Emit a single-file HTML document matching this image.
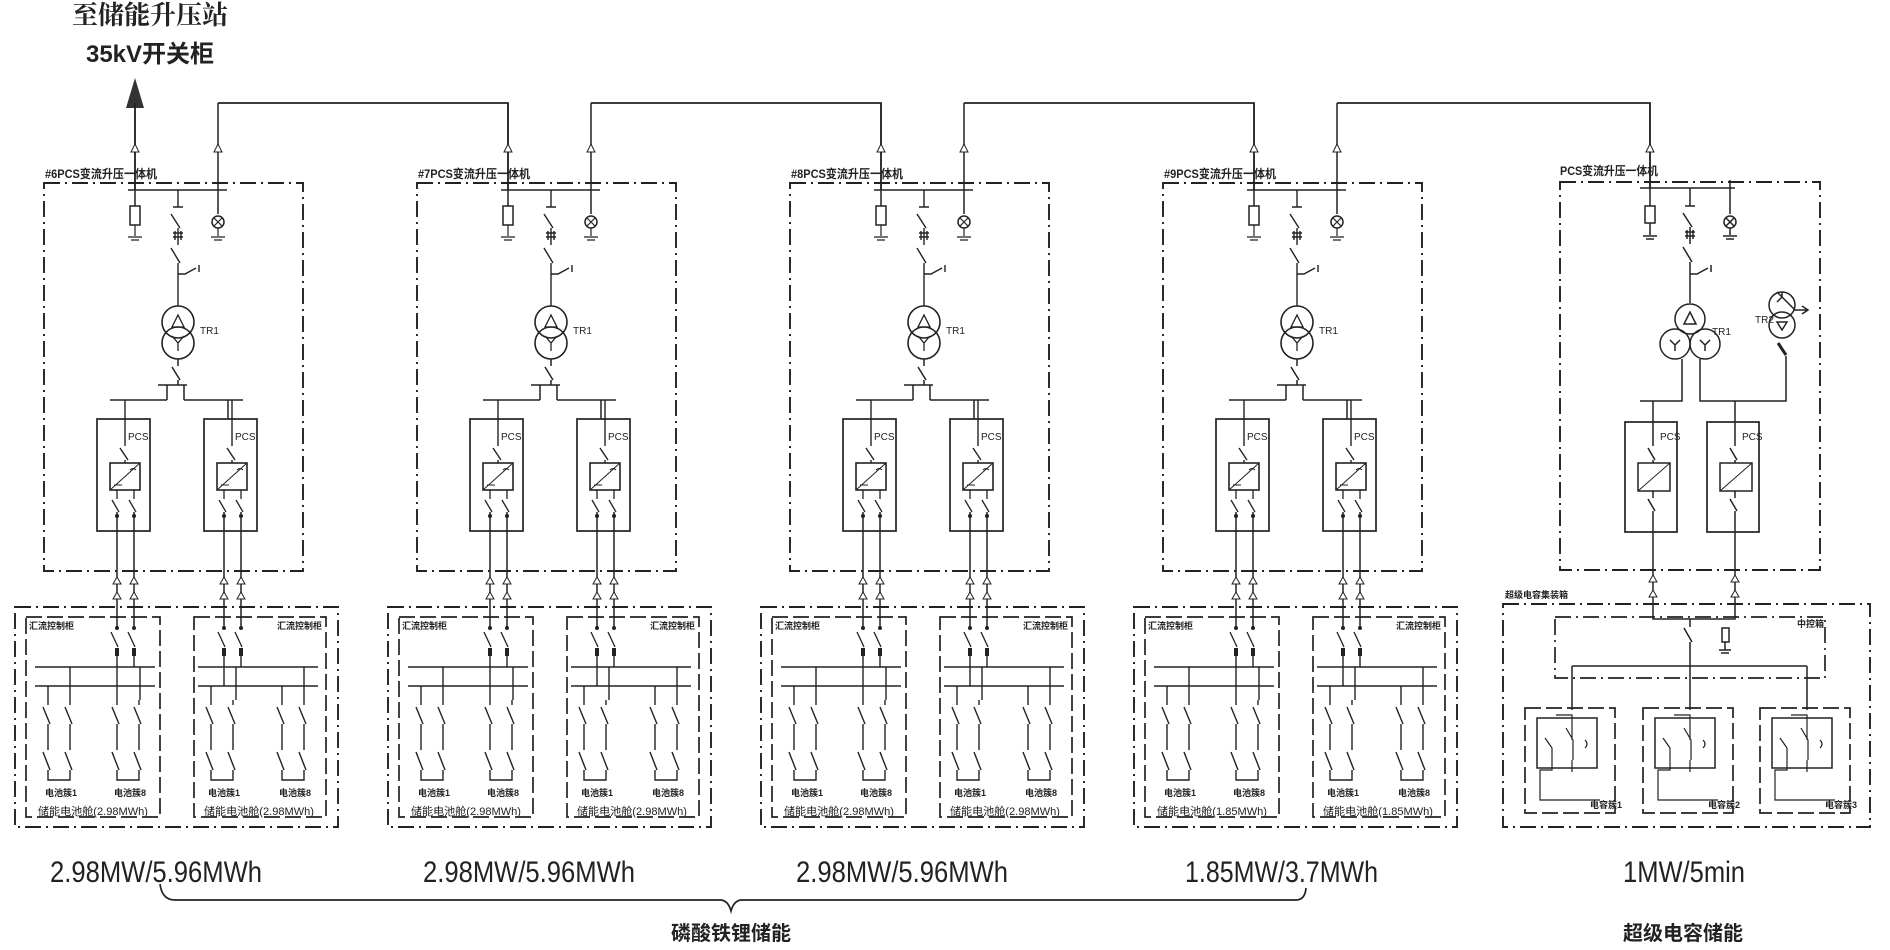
<!DOCTYPE html>
<html><head><meta charset="utf-8"><style>
html,body{margin:0;padding:0;background:#fff;}
svg{display:block;}
text{font-family:"Liberation Sans","Noto Sans CJK SC",sans-serif;fill:#222;}
</style></head><body>
<svg width="1890" height="950" viewBox="0 0 1890 950" xmlns="http://www.w3.org/2000/svg">
<defs>
<g id="pcs">
  <rect x="97" y="419" width="53" height="112" fill="none" stroke="#222" stroke-width="1.7"/>
  <path d="M125,400 V446 M120,448 L128,460 M125,460 V463" stroke="#222" stroke-width="1.4" fill="none"/>
  <rect x="110" y="463" width="30" height="27" fill="none" stroke="#222" stroke-width="1.6"/>
  <path d="M110,490 L140,463 M130,470 q3,-3 6,0 M114,485 h8" stroke="#222" stroke-width="1" fill="none"/>
  <path d="M117,490 V499 M134,490 V499 M112,500 L119,512 M129,500 L136,512" stroke="#222" stroke-width="1.3" fill="none"/>
  <circle cx="117" cy="516" r="2" fill="#222"/><circle cx="134" cy="516" r="2" fill="#222"/>
  <path d="M117,512 V628 M134,512 V628" stroke="#222" stroke-width="1.5" fill="none"/>
  <path d="M113,584 L117,577 L121,584 Z M113,599 L117,592 L121,599 Z M130,584 L134,577 L138,584 Z M130,599 L134,592 L138,599 Z" fill="#fff" stroke="#222" stroke-width="1"/>
  <circle cx="117" cy="628" r="2" fill="#222"/><circle cx="134" cy="628" r="2" fill="#222"/>
  <path d="M111,632 L118,647 M128,632 L135,647" stroke="#222" stroke-width="1.3"/>
  <rect x="115" y="648" width="4" height="8" fill="#222"/><rect x="132" y="648" width="4" height="8" fill="#222"/>
</g>
<g id="branch">
  <path d="M48,700 V705 M43,707 L50,724 M48,724 V750 M43,752 L50,770 M48,770 V780 H70 V770 M65,752 L72,770 M70,750 V724 M65,707 L72,724 M70,705 V700" stroke="#222" stroke-width="1.4" fill="none"/>
</g>
<g id="u">
  <rect x="44" y="183" width="259" height="388" fill="none" stroke="#222" stroke-width="1.9" stroke-dasharray="16 5 2 5"/>
  <path d="M135,103 V206 M218,103 V214" stroke="#222" stroke-width="1.5" fill="none"/>
  <path d="M131,152 L135,144 L139,152 Z M214,152 L218,144 L222,152 Z" fill="#fff" stroke="#222" stroke-width="1"/>
  <path d="M128,190 H227" stroke="#222" stroke-width="1.4"/>
  <rect x="130" y="206" width="10" height="19" fill="none" stroke="#222" stroke-width="1.5"/>
  <path d="M135,225 V236 M128,237 H142 M131,240 H139" stroke="#222" stroke-width="1.2"/>
  <circle cx="218" cy="222" r="6" fill="none" stroke="#222" stroke-width="1.5"/>
  <path d="M214,218 L222,226 M222,218 L214,226 M218,228 V236 M211,237 H225 M214,240 H222" stroke="#222" stroke-width="1.2"/>
  <path d="M178,190 V207 M173,207 H183 M171,214 L180,228 M178,228 V245 M173,233 h10 M173,237 h10 M175,231 v9 M181,231 v9 M171,248 L180,263 M178,263 V306 M178,274 H185 L196,268 M199,265 V272" stroke="#222" stroke-width="1.4" fill="none"/>
  <circle cx="178" cy="322" r="16" fill="none" stroke="#222" stroke-width="1.6"/>
  <circle cx="178" cy="343" r="16" fill="none" stroke="#222" stroke-width="1.6"/>
  <path d="M172,327 L178,315 L184,327 Z M172,336 L178,343 L184,336 M178,343 V351" fill="none" stroke="#222" stroke-width="1.3"/>
  <path d="M178,359 V366 M172,367 L180,380 M178,380 V385 M158,385 H187 M167,385 V400 M184,385 V400 M110,400 H167 M184,400 H243 M228,400 V419" stroke="#222" stroke-width="1.5" fill="none"/>
  <use href="#pcs"/>
  <use href="#pcs" transform="translate(107,0)"/>
  <rect x="15" y="607" width="323" height="220" fill="none" stroke="#222" stroke-width="1.9" stroke-dasharray="16 5 2 5"/>
  <rect x="26" y="617" width="134" height="200" fill="none" stroke="#222" stroke-width="1.7" stroke-dasharray="16 5"/>
  <rect x="194" y="617" width="132" height="200" fill="none" stroke="#222" stroke-width="1.7" stroke-dasharray="16 5"/>
  <path d="M35,667 H155 M35,686 H155 M134,656 V667 M117,656 V700 M48,686 V700 M70,667 V700 M140,667 V700" stroke="#222" stroke-width="1.4" fill="none"/>
  <path d="M198,667 H318 M198,686 H318 M241,656 V667 M224,656 V686 M211,686 V700 M236,667 V700 M282,686 V700 M304,667 V700" stroke="#222" stroke-width="1.4" fill="none"/>
  <use href="#branch"/><use href="#branch" transform="translate(69,0)"/>
  <use href="#branch" transform="translate(163,0)"/><use href="#branch" transform="translate(234,0)"/>
</g>
</defs>

<!-- title -->
<text x="150" y="24" font-size="26" font-weight="bold" text-anchor="middle" style="font-family:'Noto Serif CJK SC',serif">至储能升压站</text>
<text x="150" y="62" font-size="24" font-weight="bold" text-anchor="middle">35kV开关柜</text>
<path d="M135,78 L126,108 L144,108 Z" fill="#333"/>
<path d="M135,105 V190" stroke="#222" stroke-width="1.7"/>

<!-- top interconnections -->
<path d="M218,103 H508 V190 M591,103 H881 V190 M964,103 H1254 V190 M1337,103 H1650 V188" stroke="#222" stroke-width="1.7" fill="none"/>

<use href="#u"/>
<use href="#u" transform="translate(373,0)"/>
<use href="#u" transform="translate(746,0)"/>
<use href="#u" transform="translate(1119,0)"/>

<!-- unit labels -->
<g font-size="12" font-weight="bold">
<text x="45" y="178" textLength="112" lengthAdjust="spacingAndGlyphs">#6PCS变流升压一体机</text>
<text x="418" y="178" textLength="112" lengthAdjust="spacingAndGlyphs">#7PCS变流升压一体机</text>
<text x="791" y="178" textLength="112" lengthAdjust="spacingAndGlyphs">#8PCS变流升压一体机</text>
<text x="1164" y="178" textLength="112" lengthAdjust="spacingAndGlyphs">#9PCS变流升压一体机</text>
<text x="1560" y="175" textLength="98" lengthAdjust="spacingAndGlyphs">PCS变流升压一体机</text>
</g>
<g font-size="10">
<text x="200" y="334">TR1</text><text x="573" y="334">TR1</text><text x="946" y="334">TR1</text><text x="1319" y="334">TR1</text>
<text x="128" y="440">PCS</text><text x="235" y="440">PCS</text>
<text x="501" y="440">PCS</text><text x="608" y="440">PCS</text>
<text x="874" y="440">PCS</text><text x="981" y="440">PCS</text>
<text x="1247" y="440">PCS</text><text x="1354" y="440">PCS</text>
</g>
<g font-size="9" font-weight="bold">
<text x="29" y="629">汇流控制柜</text><text x="277" y="629">汇流控制柜</text>
<text x="402" y="629">汇流控制柜</text><text x="650" y="629">汇流控制柜</text>
<text x="775" y="629">汇流控制柜</text><text x="1023" y="629">汇流控制柜</text>
<text x="1148" y="629">汇流控制柜</text><text x="1396" y="629">汇流控制柜</text>
</g>
<g font-size="9" font-weight="bold">
<text x="45" y="796">电池簇1</text><text x="114" y="796">电池簇8</text><text x="208" y="796">电池簇1</text><text x="279" y="796">电池簇8</text>
<text x="418" y="796">电池簇1</text><text x="487" y="796">电池簇8</text><text x="581" y="796">电池簇1</text><text x="652" y="796">电池簇8</text>
<text x="791" y="796">电池簇1</text><text x="860" y="796">电池簇8</text><text x="954" y="796">电池簇1</text><text x="1025" y="796">电池簇8</text>
<text x="1164" y="796">电池簇1</text><text x="1233" y="796">电池簇8</text><text x="1327" y="796">电池簇1</text><text x="1398" y="796">电池簇8</text>
</g>
<g font-size="11">
<text x="38" y="815" textLength="110" lengthAdjust="spacingAndGlyphs">储能电池舱(2.98MWh)</text>
<text x="204" y="815" textLength="110" lengthAdjust="spacingAndGlyphs">储能电池舱(2.98MWh)</text>
<text x="411" y="815" textLength="110" lengthAdjust="spacingAndGlyphs">储能电池舱(2.98MWh)</text>
<text x="577" y="815" textLength="110" lengthAdjust="spacingAndGlyphs">储能电池舱(2.98MWh)</text>
<text x="784" y="815" textLength="110" lengthAdjust="spacingAndGlyphs">储能电池舱(2.98MWh)</text>
<text x="950" y="815" textLength="110" lengthAdjust="spacingAndGlyphs">储能电池舱(2.98MWh)</text>
<text x="1157" y="815" textLength="110" lengthAdjust="spacingAndGlyphs">储能电池舱(1.85MWh)</text>
<text x="1323" y="815" textLength="110" lengthAdjust="spacingAndGlyphs">储能电池舱(1.85MWh)</text>
</g>

<!-- Unit 5 supercap -->
<g stroke="#222" fill="none" stroke-width="1.5">
  <rect x="1560" y="182" width="260" height="388" stroke-width="1.9" stroke-dasharray="16 5 2 5"/>
  <path d="M1650,103 V206 M1730,180 V214 M1640,188 H1735"/>
  <path d="M1646,152 L1650,144 L1654,152 Z" fill="#fff" stroke-width="1"/>
  <rect x="1645" y="206" width="10" height="17"/>
  <path d="M1650,223 V235 M1643,236 H1657 M1646,239 H1654"/>
  <circle cx="1730" cy="222" r="6"/>
  <path d="M1726,218 L1734,226 M1734,218 L1726,226 M1730,228 V235 M1723,236 H1737 M1726,239 H1734"/>
  <path d="M1690,188 V206 M1685,206 H1695 M1683,213 L1692,227 M1690,227 V244 M1685,232 h10 M1685,236 h10 M1687,230 v9 M1693,230 v9 M1683,247 L1692,262 M1690,262 V303 M1690,274 H1697 L1708,268 M1711,265 V272"/>
  <circle cx="1690" cy="319" r="15"/>
  <circle cx="1675" cy="344" r="15"/>
  <circle cx="1705" cy="344" r="15"/>
  <path d="M1684,324 L1690,312 L1696,324 Z M1670,340 L1675,345 L1680,340 M1675,345 V351 M1700,340 L1705,345 L1710,340 M1705,345 V351"/>
  <circle cx="1782" cy="305" r="13"/><circle cx="1782" cy="325" r="13"/>
  <path d="M1777,302 L1782,297 L1787,302 M1782,297 V292 M1777,322 L1787,322 L1782,330 Z M1777,292 L1795,310 H1808 M1802,306 L1808,310 L1802,314"/>
  <path d="M1778,343 L1786,355" stroke-width="3"/>
  <path d="M1682,359 V401 H1640 M1700,359 V401 H1786 V356 M1653,401 V422 M1735,401 V422"/>
  <rect x="1625" y="422" width="52" height="110" stroke-width="1.7"/>
  <rect x="1707" y="422" width="52" height="110" stroke-width="1.7"/>
  <path d="M1653,422 V446 M1648,448 L1655,460 M1653,460 V463 M1735,422 V446 M1730,448 L1737,460 M1735,460 V463"/>
  <rect x="1638" y="463" width="32" height="28"/><rect x="1720" y="463" width="32" height="28"/>
  <path d="M1638,491 L1670,463 M1720,491 L1752,463" stroke-width="1"/>
  <path d="M1653,491 V498 M1648,499 L1655,511 M1653,511 V619 H1735 V511 M1730,499 L1737,511 M1735,498 V491"/>
  <path d="M1649,582 L1653,575 L1657,582 Z M1649,597 L1653,590 L1657,597 Z M1731,582 L1735,575 L1739,582 Z M1731,597 L1735,590 L1739,597 Z" fill="#fff" stroke-width="1"/>
  <rect x="1503" y="604" width="367" height="223" stroke-width="1.9" stroke-dasharray="16 5 2 5"/>
  <rect x="1555" y="617" width="270" height="61" stroke-width="1.7" stroke-dasharray="16 5 2 5"/>
  <path d="M1690,619 V627 M1684,628 L1692,642 M1690,642 V710 M1572,666 H1807 M1572,666 V710 M1807,666 V710"/>
  <rect x="1722" y="628" width="7" height="14"/>
  <path d="M1725,642 V650 M1719,650 H1731 M1721,653 H1729"/>
  <rect x="1525" y="708" width="90" height="105" stroke-width="1.7" stroke-dasharray="16 5"/>
  <rect x="1643" y="708" width="90" height="105" stroke-width="1.7" stroke-dasharray="16 5"/>
  <rect x="1760" y="708" width="90" height="105" stroke-width="1.7" stroke-dasharray="16 5"/>
  <g id="cap">
    <rect x="1537" y="718" width="60" height="50"/>
    <path d="M1556,715 H1572 V740 M1566,728 L1573,740 M1573,740 V760 M1545,738 L1552,748 M1552,748 V770 H1540 V800 H1600 M1585,740 q4,4 0,8 M1572,760 V772" stroke-width="1.2"/>
  </g>
  <use href="#cap" transform="translate(118,0)"/>
  <use href="#cap" transform="translate(235,0)"/>
</g>
<g font-size="9">
<text x="1755" y="323" font-size="10">TR2</text><text x="1712" y="335" font-size="10">TR1</text>
<text x="1660" y="440" font-size="10">PCS</text><text x="1742" y="440" font-size="10">PCS</text>
<text x="1505" y="598" font-weight="bold">超级电容集装箱</text>
<text x="1797" y="627" font-weight="bold">中控箱</text>
<text x="1590" y="808" font-weight="bold">电容簇1</text><text x="1708" y="808" font-weight="bold">电容簇2</text><text x="1825" y="808" font-weight="bold">电容簇3</text>
</g>

<!-- capacity labels -->
<g font-size="30">
<text x="50" y="882" textLength="212" lengthAdjust="spacingAndGlyphs">2.98MW/5.96MWh</text>
<text x="423" y="882" textLength="212" lengthAdjust="spacingAndGlyphs">2.98MW/5.96MWh</text>
<text x="796" y="882" textLength="212" lengthAdjust="spacingAndGlyphs">2.98MW/5.96MWh</text>
<text x="1185" y="882" textLength="193" lengthAdjust="spacingAndGlyphs">1.85MW/3.7MWh</text>
<text x="1623" y="882" textLength="122" lengthAdjust="spacingAndGlyphs">1MW/5min</text>
</g>
<path d="M160,884 Q162,900 175,900 H720 Q728,900 731,911 Q734,900 742,900 H1296 Q1305,900 1306,888" stroke="#222" stroke-width="1.7" fill="none"/>
<text x="731" y="940" font-size="20" font-weight="bold" text-anchor="middle">磷酸铁锂储能</text>
<text x="1683" y="940" font-size="20" font-weight="bold" text-anchor="middle">超级电容储能</text>
</svg>
</body></html>
